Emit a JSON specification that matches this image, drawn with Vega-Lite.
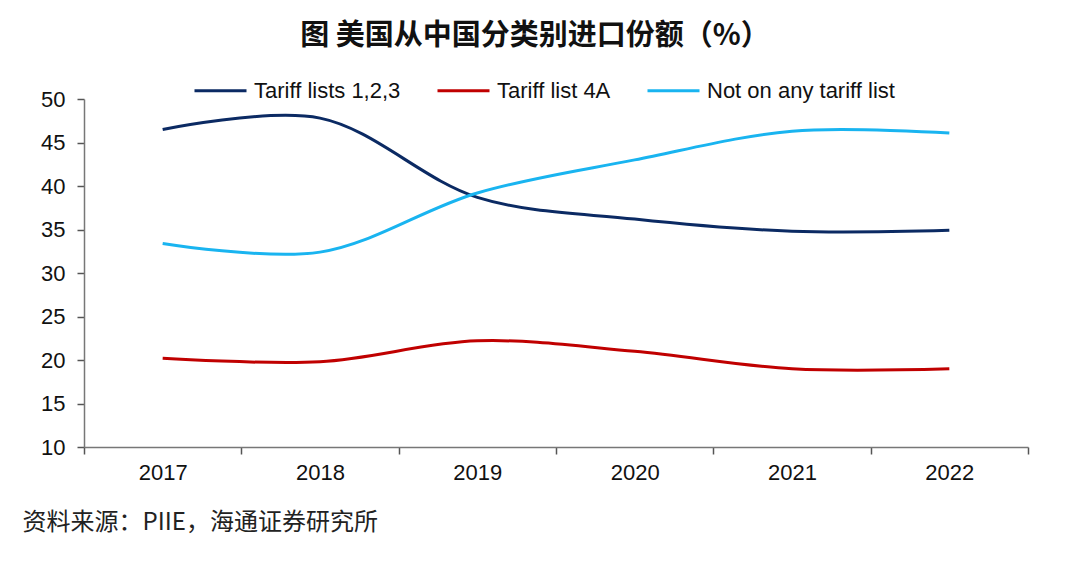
{
  "$schema": "https://vega.github.io/schema/vega-lite/v6.json",
  "width": 944,
  "height": 348,
  "autosize": {"type": "none"},
  "padding": {"left": 84, "top": 99, "right": 52, "bottom": 119},
  "background": "white",
  "title": {
    "text": "图 美国从中国分类别进口份额（%）",
    "font": "Noto Sans CJK SC",
    "fontSize": 29,
    "fontWeight": "bold",
    "color": "#111111",
    "anchor": "middle",
    "frame": "group",
    "dx": -21,
    "offset": 12
  },
  "config": {
    "view": {"stroke": null},
    "font": "Liberation Sans"
  },
  "data": {
    "values": [
      {"year": "2017", "series": "Tariff lists 1,2,3", "value": 46.5},
      {"year": "2018", "series": "Tariff lists 1,2,3", "value": 47.8},
      {"year": "2019", "series": "Tariff lists 1,2,3", "value": 38.7},
      {"year": "2020", "series": "Tariff lists 1,2,3", "value": 36.2},
      {"year": "2021", "series": "Tariff lists 1,2,3", "value": 34.8},
      {"year": "2022", "series": "Tariff lists 1,2,3", "value": 34.9},
      {"year": "2017", "series": "Tariff list 4A", "value": 20.2},
      {"year": "2018", "series": "Tariff list 4A", "value": 19.8},
      {"year": "2019", "series": "Tariff list 4A", "value": 22.2},
      {"year": "2020", "series": "Tariff list 4A", "value": 21.0},
      {"year": "2021", "series": "Tariff list 4A", "value": 19.0},
      {"year": "2022", "series": "Tariff list 4A", "value": 19.0},
      {"year": "2017", "series": "Not on any tariff list", "value": 33.4},
      {"year": "2018", "series": "Not on any tariff list", "value": 32.4},
      {"year": "2019", "series": "Not on any tariff list", "value": 39.2},
      {"year": "2020", "series": "Not on any tariff list", "value": 43.0},
      {"year": "2021", "series": "Not on any tariff list", "value": 46.3},
      {"year": "2022", "series": "Not on any tariff list", "value": 46.1}
    ]
  },
  "mark": {"type": "line", "interpolate": "catmull-rom", "strokeWidth": 3, "strokeCap": "butt"},
  "encoding": {
    "x": {
      "field": "year",
      "type": "ordinal",
      "scale": {"paddingInner": 0, "paddingOuter": 0},
      "axis": {
        "title": "资料来源：PIIE，海通证券研究所",
        "titleFont": "Noto Sans CJK SC",
        "titleFontSize": 24,
        "titleFontWeight": "normal",
        "titleColor": "#222222",
        "titleAnchor": "start",
        "titleAlign": "left",
        "titleBaseline": "middle",
        "titleX": -62,
        "titleY": 75,
        "labelAngle": 0,
        "labelFontSize": 22,
        "labelColor": "#111111",
        "labelPadding": 8,
        "tickBand": "extent",
        "tickSize": 7,
        "tickColor": "#555555",
        "tickWidth": 1.5,
        "domainColor": "#777777",
        "domainWidth": 1.5,
        "grid": false
      }
    },
    "y": {
      "field": "value",
      "type": "quantitative",
      "scale": {"domain": [10, 50], "nice": false, "zero": false},
      "axis": {
        "title": null,
        "values": [10, 15, 20, 25, 30, 35, 40, 45, 50],
        "labelFontSize": 22,
        "labelColor": "#111111",
        "labelPadding": 12,
        "tickSize": 7,
        "tickColor": "#555555",
        "tickWidth": 1.5,
        "domainColor": "#777777",
        "domainWidth": 1.5,
        "grid": false
      }
    },
    "color": {
      "field": "series",
      "type": "nominal",
      "sort": ["Tariff lists 1,2,3", "Tariff list 4A", "Not on any tariff list"],
      "scale": {
        "domain": ["Tariff lists 1,2,3", "Tariff list 4A", "Not on any tariff list"],
        "range": ["#0b2a63", "#c00000", "#19b4f0"]
      },
      "legend": {
        "title": null,
        "orient": "none",
        "direction": "horizontal",
        "legendX": 109,
        "legendY": -36,
        "padding": 0,
        "symbolType": "stroke",
        "symbolSize": 2704,
        "symbolStrokeWidth": 3,
        "labelFontSize": 22,
        "labelLimit": 400,
        "labelColor": "#111111",
        "labelOffset": 6,
        "columnPadding": 30
      }
    }
  }
}
